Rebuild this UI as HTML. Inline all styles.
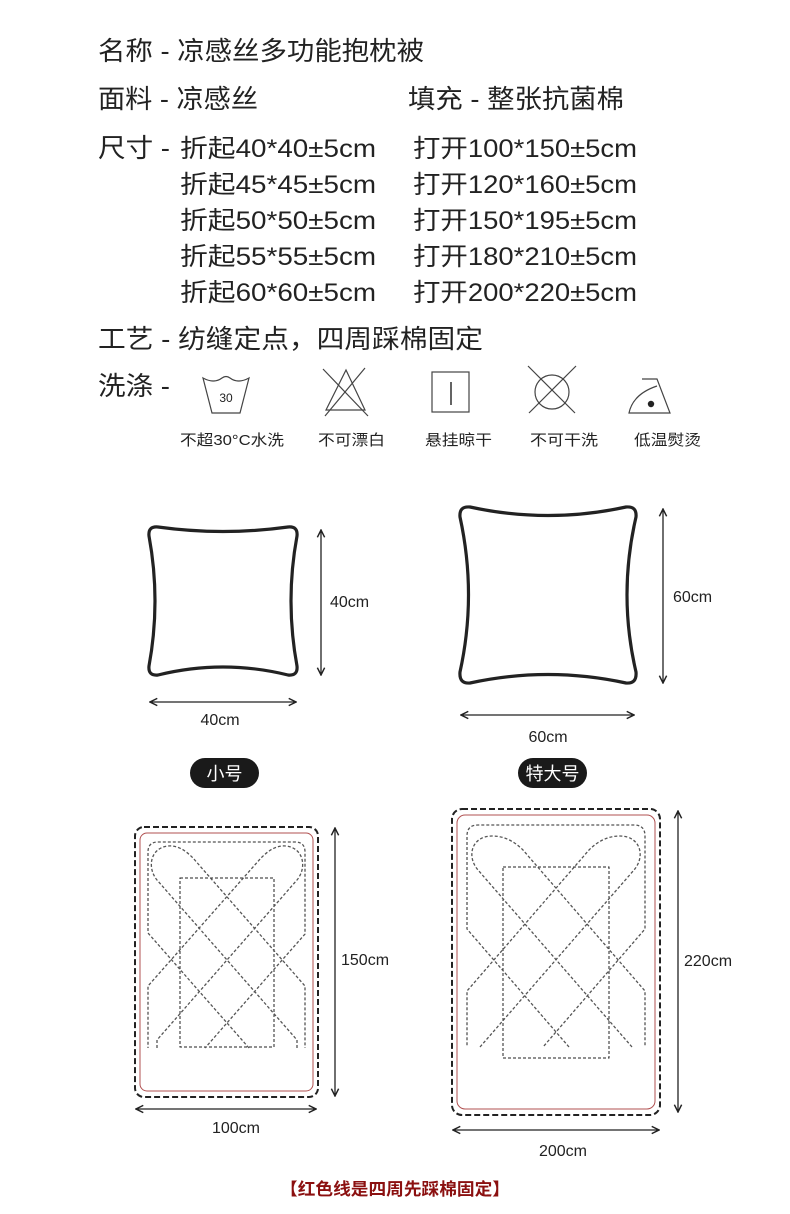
<!DOCTYPE html>
<html><head><meta charset="utf-8"><style>
html,body{margin:0;padding:0;background:#fff;}
svg{display:block;}
text{font-family:"Liberation Sans","Noto Sans CJK SC",sans-serif;fill:#222;}
</style></head><body>
<svg width="790" height="1214" viewBox="0 0 790 1214" xmlns="http://www.w3.org/2000/svg">
<defs>
<marker id="ah" viewBox="0 0 10 10" refX="9" refY="5" markerWidth="7" markerHeight="7" orient="auto-start-reverse"><path d="M1,1 L9,5 L1,9" fill="none" stroke="#222" stroke-width="1.6"/></marker>
</defs>
<g font-size="26">
<text x="98" y="60" textLength="326" lengthAdjust="spacingAndGlyphs">名称 - 凉感丝多功能抱枕被</text>
<text x="98" y="108" textLength="160" lengthAdjust="spacingAndGlyphs">面料 - 凉感丝</text>
<text x="408" y="108" textLength="216" lengthAdjust="spacingAndGlyphs">填充 - 整张抗菌棉</text>
<text x="98" y="157" textLength="72" lengthAdjust="spacingAndGlyphs">尺寸 -</text>
<text x="98" y="348" textLength="385" lengthAdjust="spacingAndGlyphs">工艺 -  纺缝定点，四周踩棉固定</text>
<text x="98" y="395" textLength="72" lengthAdjust="spacingAndGlyphs">洗涤 -</text>
</g>
<g font-size="25">
<text x="180" y="157" textLength="196" lengthAdjust="spacingAndGlyphs">折起40*40±5cm</text>
<text x="180" y="193" textLength="196" lengthAdjust="spacingAndGlyphs">折起45*45±5cm</text>
<text x="180" y="229" textLength="196" lengthAdjust="spacingAndGlyphs">折起50*50±5cm</text>
<text x="180" y="265" textLength="196" lengthAdjust="spacingAndGlyphs">折起55*55±5cm</text>
<text x="180" y="301" textLength="196" lengthAdjust="spacingAndGlyphs">折起60*60±5cm</text>
<text x="413" y="157" textLength="224" lengthAdjust="spacingAndGlyphs">打开100*150±5cm</text>
<text x="413" y="193" textLength="224" lengthAdjust="spacingAndGlyphs">打开120*160±5cm</text>
<text x="413" y="229" textLength="224" lengthAdjust="spacingAndGlyphs">打开150*195±5cm</text>
<text x="413" y="265" textLength="224" lengthAdjust="spacingAndGlyphs">打开180*210±5cm</text>
<text x="413" y="301" textLength="224" lengthAdjust="spacingAndGlyphs">打开200*220±5cm</text>
</g>
<!-- wash icons -->
<g fill="none" stroke="#444" stroke-width="1.2">
<path d="M203,378 Q214,384 222,378 Q226,375 230,378 Q238,384 249,378 L240,413 L212,413 Z"/>
<path d="M346,370 L326,410 L365,410 Z"/>
<line x1="323" y1="369" x2="368" y2="416"/><line x1="365" y1="368" x2="325" y2="416"/>
<rect x="432" y="372" width="37" height="40"/>
<line x1="451" y1="382" x2="451" y2="405" stroke="#222" stroke-width="1.4"/>
<circle cx="552" cy="392" r="17"/>
<line x1="528" y1="366" x2="575" y2="413"/><line x1="576" y1="366" x2="529" y2="413"/>
<path d="M642,379 L657,379 L670,413 L629,413 Q633,394 657,386"/>
</g>
<text x="226" y="402" font-size="12" text-anchor="middle">30</text>
<circle cx="651" cy="404" r="3.2" fill="#222"/>
<g font-size="15">
<text x="180" y="445" textLength="104" lengthAdjust="spacingAndGlyphs">不超30°C水洗</text>
<text x="318" y="445" textLength="67" lengthAdjust="spacingAndGlyphs">不可漂白</text>
<text x="425" y="445" textLength="67" lengthAdjust="spacingAndGlyphs">悬挂晾干</text>
<text x="530" y="445" textLength="68" lengthAdjust="spacingAndGlyphs">不可干洗</text>
<text x="634" y="445" textLength="67" lengthAdjust="spacingAndGlyphs">低温熨烫</text>
</g>
<!-- pillows -->
<g fill="none" stroke="#222" stroke-width="3.2" stroke-linejoin="round">
<path d="M158,527 Q223,536 288,527 Q298,526 297,536 Q285,601 297,666 Q298,676 288,675 Q223,659 158,675 Q148,676 149,666 Q161,601 149,536 Q148,526 158,527 Z"/>
<path d="M470,507 Q548,524 626,507 Q637,506 636,517 Q618,595 636,672 Q637,684 626,683 Q548,666 470,683 Q459,684 460,672 Q477,595 460,517 Q459,506 470,507 Z"/>
</g>
<g stroke="#222" stroke-width="1.3" marker-start="url(#ah)" marker-end="url(#ah)">
<line x1="321" y1="530" x2="321" y2="675"/>
<line x1="150" y1="702" x2="296" y2="702"/>
<line x1="663" y1="509" x2="663" y2="683"/>
<line x1="461" y1="715" x2="634" y2="715"/>
<line x1="335" y1="828" x2="335" y2="1096"/>
<line x1="136" y1="1109" x2="316" y2="1109"/>
<line x1="678" y1="811" x2="678" y2="1112"/>
<line x1="453" y1="1130" x2="659" y2="1130"/>
</g>
<g font-size="16">
<text x="330" y="607">40cm</text>
<text x="220" y="725" text-anchor="middle">40cm</text>
<text x="673" y="602">60cm</text>
<text x="548" y="742" text-anchor="middle">60cm</text>
<text x="341" y="965">150cm</text>
<text x="236" y="1133" text-anchor="middle">100cm</text>
<text x="684" y="966">220cm</text>
<text x="563" y="1156" text-anchor="middle">200cm</text>
</g>
<rect x="190" y="758" width="69" height="30" rx="15" fill="#1a1a1a"/>
<text x="224.5" y="780" font-size="18" text-anchor="middle" style="fill:#fff">小号</text>
<rect x="518" y="758" width="69" height="30" rx="15" fill="#1a1a1a"/>
<text x="552.5" y="780" font-size="18" text-anchor="middle" style="fill:#fff">特大号</text>
<!-- small quilt -->
<rect x="135" y="827" width="183" height="270" rx="9" fill="none" stroke="#222" stroke-width="2" stroke-dasharray="6 3"/>
<rect x="140" y="833" width="173" height="258" rx="7" fill="none" stroke="#b05050" stroke-width="1"/>
<rect x="180" y="878" width="94" height="169" fill="none" stroke="#222" stroke-width="1" stroke-dasharray="3 2"/>
<g fill="none" stroke="#555" stroke-width="1.3" stroke-dasharray="3 2">
<path d="M249,1048 L148,933 L148,852 Q148,842 158,842 L295,842 Q305,842 305,852 L305,934 L205,1048"/>
<path d="M297,1048 L297,1040 L157,880 C147,868 150,848 168,846 C178,845 186,851 193,858 L305,986 L305,1048"/>
<path d="M157,1048 L157,1040 L297,880 C307,868 304,848 286,846 C276,845 268,851 261,858 L148,986 L148,1048"/>
</g>
<!-- large quilt -->
<rect x="452" y="809" width="208" height="306" rx="10" fill="none" stroke="#222" stroke-width="2" stroke-dasharray="6 3"/>
<rect x="457" y="815" width="198" height="294" rx="8" fill="none" stroke="#b05050" stroke-width="1"/>
<rect x="503" y="867" width="106" height="191" fill="none" stroke="#222" stroke-width="1" stroke-dasharray="3 2"/>
<g fill="none" stroke="#555" stroke-width="1.3" stroke-dasharray="3 2">
<path d="M569,1047 L467,929 L467,836 Q467,825 478,825 L634,825 Q645,825 645,836 L645,929 L543,1047"/>
<path d="M632,1047 L478,870 C466,856 472,836 492,836 C505,836 515,842 523,850 L645,991 L645,1047"/>
<path d="M480,1047 L634,870 C646,856 640,836 620,836 C607,836 597,842 589,850 L467,991 L467,1047"/>
</g>
<text x="280" y="1195" font-size="17" font-weight="bold" style="fill:#8b1010" textLength="230" lengthAdjust="spacingAndGlyphs">【红色线是四周先踩棉固定】</text>
</svg>
</body></html>
